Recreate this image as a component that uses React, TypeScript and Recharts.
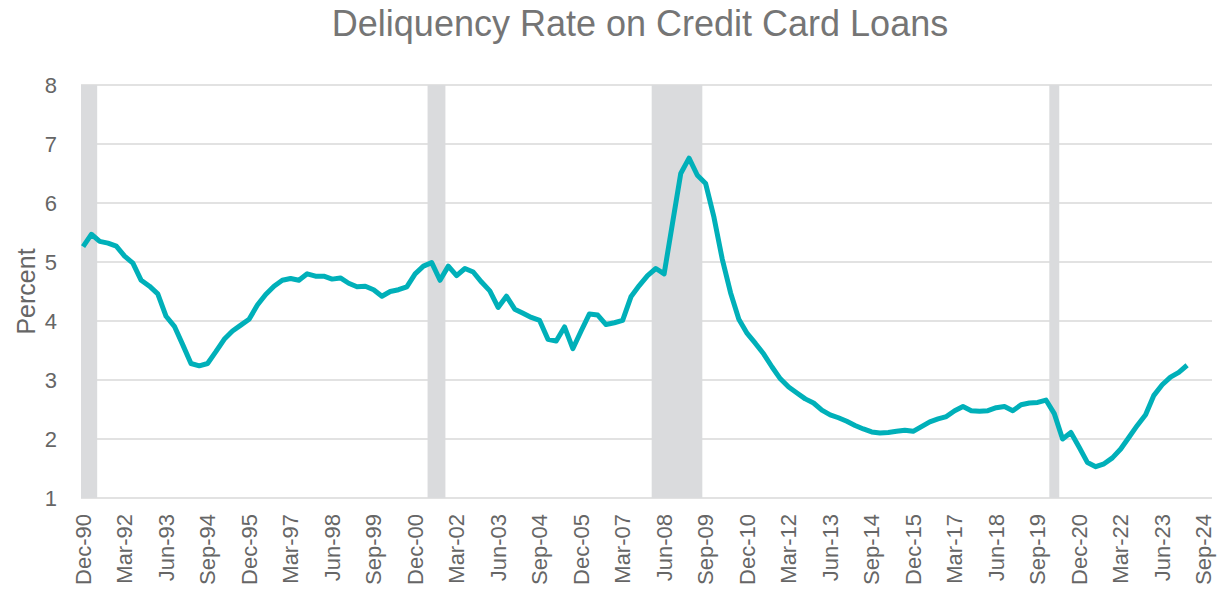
import { LineChart, Line, XAxis, YAxis, CartesianGrid, ReferenceArea } from "recharts";

// quarterly delinquency rate, first value = Dec-90 label position
const rates = [
  5.26, 5.47, 5.35, 5.32, 5.27, 5.10, 4.98, 4.69, 4.59, 4.46,
  4.08, 3.91, 3.60, 3.28, 3.24, 3.28, 3.48, 3.69, 3.83, 3.93,
  4.03, 4.27, 4.45, 4.59, 4.69, 4.72, 4.69, 4.80, 4.76, 4.76,
  4.71, 4.73, 4.64, 4.58, 4.59, 4.53, 4.42, 4.50, 4.53, 4.58,
  4.80, 4.93, 4.99, 4.69, 4.93, 4.77, 4.89, 4.83, 4.66, 4.51,
  4.23, 4.42, 4.20, 4.13, 4.06, 4.01, 3.69, 3.66, 3.90, 3.53,
  3.83, 4.12, 4.10, 3.94, 3.97, 4.01, 4.41, 4.60, 4.77, 4.89,
  4.80, 5.65, 6.50, 6.76, 6.47, 6.33, 5.76, 5.05, 4.48, 4.03,
  3.79, 3.62, 3.44, 3.22, 3.02, 2.88, 2.78, 2.68, 2.61, 2.49,
  2.41, 2.36, 2.30, 2.23, 2.17, 2.12, 2.10, 2.11, 2.13, 2.15,
  2.13, 2.21, 2.29, 2.34, 2.38, 2.48, 2.55, 2.48, 2.47, 2.48,
  2.53, 2.55, 2.48, 2.58, 2.61, 2.62, 2.66, 2.43, 2.00, 2.11,
  1.86, 1.60, 1.53, 1.58, 1.68, 1.83, 2.03, 2.23, 2.41, 2.74,
  2.92, 3.05, 3.13, 3.25,
];

// one label every 5 quarters
const tickLabels = [
  "Dec-90", "Mar-92", "Jun-93", "Sep-94", "Dec-95", "Mar-97", "Jun-98",
  "Sep-99", "Dec-00", "Mar-02", "Jun-03", "Sep-04", "Dec-05", "Mar-07",
  "Jun-08", "Sep-09", "Dec-10", "Mar-12", "Jun-13", "Sep-14", "Dec-15",
  "Mar-17", "Jun-18", "Sep-19", "Dec-20", "Mar-22", "Jun-23", "Sep-24",
];

// recession shading, in quarters from Dec-90
const recessionStart = [-0.25, 41.5, 68.5, 116.4];
const recessionEnd = [1.7, 43.65, 74.6, 117.6];

const yTicks = [1, 2, 3, 4, 5, 6, 7, 8];

const data = rates.map((rate, q) => ({ q, rate }));
const xTicks = tickLabels.map((_, i) => i * 5);

const TEXT = "#666666";
const FONT = "'Liberation Sans', Arial, sans-serif";

function XTick({ x, y, payload }: any) {
  const label = tickLabels[Math.round(payload.value / 5)];
  return (
    <text
      x={x}
      y={y}
      transform={`rotate(-90, ${x}, ${y})`}
      textAnchor="end"
      dominantBaseline="central"
      fill={TEXT}
      fontSize={22}
      fontFamily={FONT}
    >
      {label}
    </text>
  );
}

export default function App() {
  return (
    <div style={{ position: "absolute", left: 0, top: 0, width: 1224, height: 592, background: "#fff" }}>
      <div
        style={{
          position: "absolute",
          top: 3,
          left: 640,
          transform: "translateX(-50%)",
          whiteSpace: "nowrap",
          fontFamily: FONT,
          fontSize: 36,
          color: "#757575",
        }}
      >
        Deliquency Rate on Credit Card Loans
      </div>
      <LineChart width={1224} height={592} data={data} margin={{ top: 85, right: 12, bottom: 0, left: 0 }}>
        <CartesianGrid vertical={false} stroke="#D9D9D9" strokeWidth={1.5} />
        {recessionStart.map((s, i) => (
          <ReferenceArea
            key={i}
            x1={s}
            x2={recessionEnd[i]}
            y1={1}
            y2={8}
            fill="#DADBDD"
            fillOpacity={1}
            stroke="none"
            ifOverflow="hidden"
          />
        ))}
        <XAxis
          dataKey="q"
          type="number"
          domain={[-0.25, 136]}
          ticks={xTicks}
          interval={0}
          allowDataOverflow
          axisLine={false}
          tickLine={false}
          tickSize={0}
          tickMargin={16}
          height={94}
          tick={<XTick />}
        />
        <YAxis
          domain={[1, 8]}
          ticks={yTicks}
          interval={0}
          axisLine={false}
          tickLine={false}
          tickSize={0}
          tickMargin={24}
          width={81}
          tick={{ fill: TEXT, fontSize: 22, fontFamily: FONT }}
          label={{
            value: "Percent",
            angle: -90,
            position: "center",
            dx: -14,
            fill: TEXT,
            fontSize: 25,
            fontFamily: FONT,
          }}
        />
        <Line
          dataKey="rate"
          type="linear"
          stroke="#00B0B9"
          strokeWidth={5}
          strokeLinejoin="round"
          dot={false}
          activeDot={false}
          isAnimationActive={false}
        />
      </LineChart>
    </div>
  );
}
